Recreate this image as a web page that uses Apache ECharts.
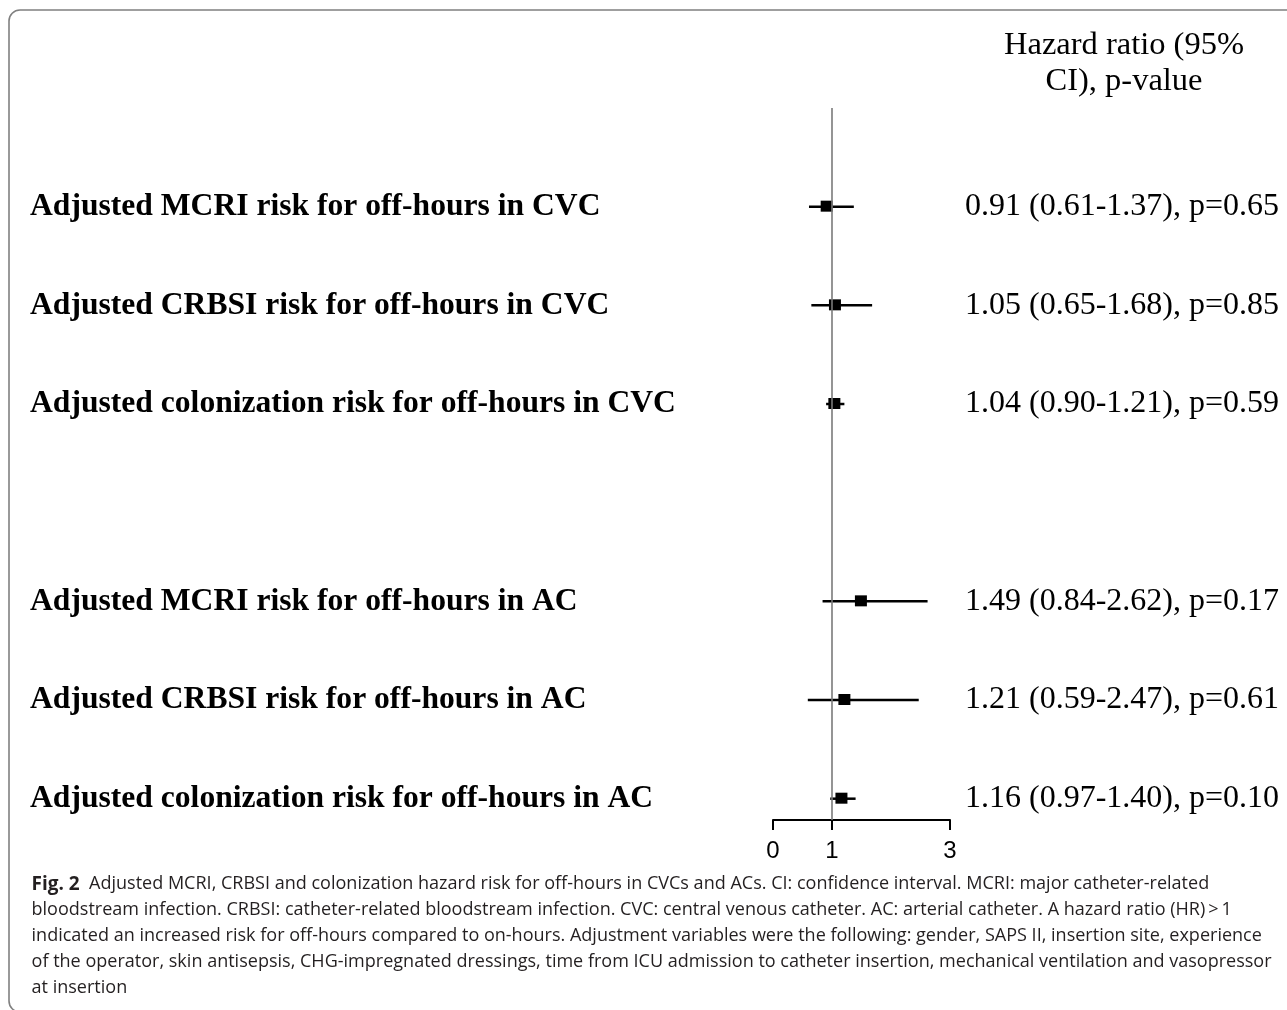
<!DOCTYPE html>
<html>
<head>
<meta charset="utf-8">
<script src="https://cdn.jsdelivr.net/npm/echarts@6/dist/echarts.min.js"></script>
<style>html,body{margin:0;padding:0;background:#fff;}#c{width:1287px;height:1010px;}</style>
</head>
<body>
<div id="c"></div>
<script>
// ---- data ----
const categories = [
  'Adjusted MCRI risk for off-hours in CVC',
  'Adjusted CRBSI risk for off-hours in CVC',
  'Adjusted colonization risk for off-hours in CVC',
  '',
  'Adjusted MCRI risk for off-hours in AC',
  'Adjusted CRBSI risk for off-hours in AC',
  'Adjusted colonization risk for off-hours in AC'
];
const hazardRatio = [0.91, 1.05, 1.04, null, 1.49, 1.21, 1.16];
const ciLower     = [0.61, 0.65, 0.90, null, 0.84, 0.59, 0.97];
const ciUpper     = [1.37, 1.68, 1.21, null, 2.62, 2.47, 1.40];
const pValues     = ['0.65', '0.85', '0.59', null, '0.17', '0.61', '0.10'];
const xTicks = [0, 1, 3];
const refValue = 1;
const headerLines = ['Hazard ratio (95%', 'CI), p-value'];
const captionBold = 'Fig. 2';
const captionLines = [
  '  Adjusted MCRI, CRBSI and colonization hazard risk for off-hours in CVCs and ACs. CI: confidence interval. MCRI: major catheter-related',
  'bloodstream infection. CRBSI: catheter-related bloodstream infection. CVC: central venous catheter. AC: arterial catheter. A hazard ratio (HR)\u2009>\u20091',
  'indicated an increased risk for off-hours compared to on-hours. Adjustment variables were the following: gender, SAPS II, insertion site, experience',
  'of the operator, skin antisepsis, CHG-impregnated dressings, time from ICU admission to catheter insertion, mechanical ventilation and vasopressor',
  'at insertion'
];

// ---- build ----
const rows = [];
categories.forEach((c, i) => {
  if (hazardRatio[i] == null) return;
  rows.push([i, hazardRatio[i], ciLower[i], ciUpper[i]]);
});
const fmt = v => v.toFixed(2);
const rightText = i => `${fmt(hazardRatio[i])} (${fmt(ciLower[i])}-${fmt(ciUpper[i])}), p=${pValues[i]}`;

const serif = "'Liberation Serif', 'Times New Roman', serif";
const capFont = "'Open Sans', 'Noto Sans', sans-serif";
const capSize = 19;

// horizontal compression for the condensed caption face
const cv = document.createElement('canvas').getContext('2d');
cv.font = capSize + 'px ' + capFont;
const w4 = cv.measureText(captionLines[3]).width;
const capScale = Math.min(1, 1240 / w4);

const chart = echarts.init(document.getElementById('c'));

const graphics = [
  { type: 'rect', shape: { x: 9, y: 10, width: 1330, height: 1002, r: 11 },
    style: { fill: 'none', stroke: '#808080', lineWidth: 1.6 }, silent: true },
];
headerLines.forEach((t, k) => graphics.push({
  type: 'text', x: 1124, y: 45 + k * 36,
  style: { text: t, fontFamily: serif, fontSize: 32.5, fill: '#000', align: 'center', verticalAlign: 'middle' }
}));
captionLines.forEach((t, k) => {
  const el = {
    type: 'text', x: 30, y: 884 + k * 26, scaleX: capScale, originX: 30,
    style: { fontFamily: capFont, fontSize: capSize, fill: '#231f20', verticalAlign: 'middle', align: 'left' }
  };
  if (k === 0) {
    el.style.text = '{b|' + captionBold + '}' + t;
    el.style.rich = { b: { fontFamily: capFont, fontSize: capSize + 1, fontWeight: 'bold', fill: '#231f20' } };
  } else {
    el.style.text = t;
  }
  graphics.push(el);
});

chart.setOption({
  animation: false,
  backgroundColor: '#fff',
  grid: { left: 773, right: 337, top: 108, height: 712 },
  xAxis: {
    type: 'value', min: 0, max: 3,
    splitLine: { show: false },
    axisLine: { show: true, onZero: false, lineStyle: { color: '#000', width: 2 } },
    axisTick: { show: true, customValues: xTicks, length: 10, lineStyle: { color: '#000', width: 2 } },
    axisLabel: { customValues: xTicks, fontFamily: "'Liberation Sans', Arial, sans-serif", fontSize: 24, color: '#000', margin: 19 }
  },
  yAxis: {
    type: 'value', inverse: true, min: -1, max: 6.216,
    show: false, splitLine: { show: false }
  },
  series: [
    {
      type: 'line', data: [[refValue, -1], [refValue, 6.216]], symbol: 'none',
      lineStyle: { color: '#7a7a7a', width: 1.6 }, silent: true
    },
    {
      type: 'custom',
      data: rows,
      encode: { x: [1, 2, 3], y: 0 },
      renderItem: (params, api) => {
        const i = api.value(0);
        const pm = api.coord([api.value(1), i]);
        const pl = api.coord([api.value(2), i]);
        const ph = api.coord([api.value(3), i]);
        return {
          type: 'group', children: [
            { type: 'line', shape: { x1: pl[0], y1: pl[1], x2: ph[0], y2: ph[1] }, style: { stroke: '#000', lineWidth: 2.5 } },
            { type: 'rect', shape: { x: pm[0] - 6, y: pm[1] - 6, width: 12, height: 11 }, style: { fill: '#000' } },
            { type: 'text', x: 30, y: pm[1], style: { text: categories[i], fontFamily: serif, fontWeight: 'bold', fontSize: 31.6, fill: '#000', verticalAlign: 'middle', align: 'left' } },
            { type: 'text', x: 965, y: pm[1], style: { text: rightText(i), fontFamily: serif, fontSize: 32, fill: '#000', verticalAlign: 'middle', align: 'left' } }
          ]
        };
      }
    }
  ],
  graphic: graphics
});
</script>
</body>
</html>
